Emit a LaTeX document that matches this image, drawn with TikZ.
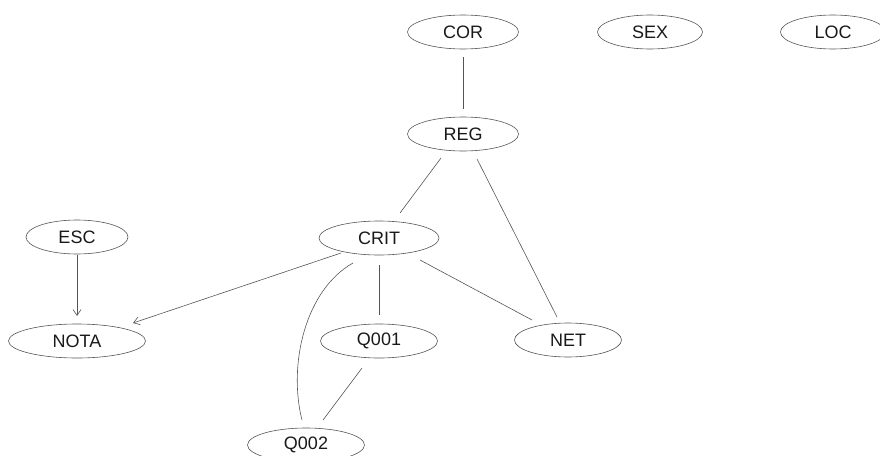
\documentclass[tikz,border=0pt]{standalone}
\usepackage{fontspec}
\setmainfont{Liberation Sans}
\usetikzlibrary{shapes.geometric,arrows.meta}
\definecolor{edgegray}{RGB}{85,85,85}
\definecolor{labelink}{RGB}{25,25,25}
\begin{document}
\begin{tikzpicture}[x=1pt,y=-1pt,
  var/.style={ellipse,draw=edgegray,line width=0.6pt,inner sep=0pt,
    minimum height=34pt,text=labelink,font=\fontsize{18}{20}\selectfont},
  link/.style={draw=edgegray,line width=0.6pt},
  dirlink/.style={link,-{Straight Barb[length=6pt,width=8pt]}}]
\useasboundingbox (0,0) rectangle (880,455);
\clip (0,0) rectangle (880,455);

% variables
\node[var,minimum width=111pt] (cor)  at (463,32)  {COR};
\node[var,minimum width=105pt] (sex)  at (650,32)  {SEX};
\node[var,minimum width=105pt] (loc)  at (833,32)  {LOC};
\node[var,minimum width=111pt] (reg)  at (463,134) {REG};
\node[var,minimum width=102pt] (esc)  at (77,237)  {ESC};
\node[var,minimum width=120pt] (crit) at (379,238) {CRIT};
\node[var,minimum width=137pt] (nota) at (77,341)  {NOTA};
\node[var,minimum width=117pt] (q001) at (379,341) {Q001};
\node[var,minimum width=107pt] (net)  at (568,340) {NET};
\node[var,minimum width=117pt] (q002) at (306,445) {Q002};

% undirected links
\draw[link] ([shift={(0,25)}]cor.center) -- ([shift={(0,-25)}]reg.center);
\draw[link] ([shift={(-22,24)}]reg.center) -- ([shift={(21,-25)}]crit.center);
\draw[link] ([shift={(14,25)}]reg.center) -- ([shift={(-11,-23)}]net.center);
\draw[link] ([shift={(0,27)}]crit.center) -- ([shift={(0,-26)}]q001.center);
\draw[link] ([shift={(41,22)}]crit.center) -- ([shift={(-36,-20)}]net.center);
\draw[link] ([shift={(-26,25)}]crit.center)
  .. controls +(-48,27) and +(-14,-55) .. ([shift={(-4,-25)}]q002.center);
\draw[link] ([shift={(-17,27)}]q001.center) -- ([shift={(17,-25)}]q002.center);

% directed links
\draw[dirlink] ([shift={(0,18)}]esc.center) -- ([shift={(0,-25)}]nota.center);
\draw[dirlink] ([shift={(-38,15)}]crit.center) -- ([shift={(56,-18)}]nota.center);
\end{tikzpicture}
\end{document}
